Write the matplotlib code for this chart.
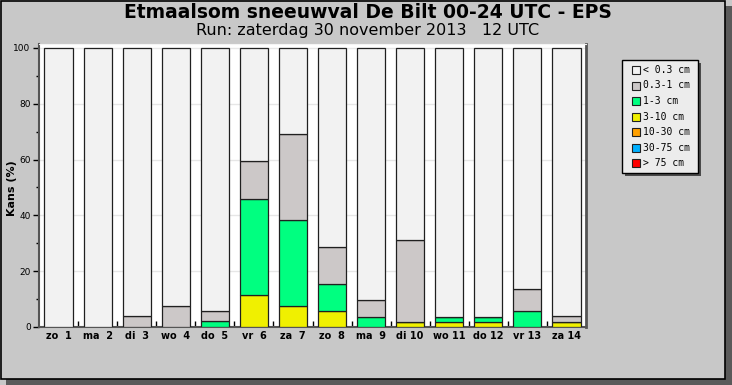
import matplotlib
matplotlib.use("Agg")
import matplotlib.pyplot as plt
from matplotlib.patches import Rectangle
import numpy as np

days = ["zo  1", "ma  2", "di  3", "wo  4", "do  5", "vr  6", "za  7",
        "zo  8", "ma  9", "di 10", "wo 11", "do 12", "vr 13", "za 14"]
classes = ["< 0.3 cm", "0.3-1 cm", "1-3 cm", "3-10 cm", "10-30 cm", "30-75 cm", "> 75 cm"]
colors = ["#f2f2f2", "#ccc8c8", "#00ff80", "#f0f000", "#ffa000", "#00b0ff", "#ff0000"]

# percentages per class (reading from the chart)
p_10_30 = [0, 0, 0, 0, 0, 0, 0, 0, 0, 0, 0, 0, 0, 0]
p_3_10 = [0, 0, 0, 0, 0, 11.3, 7.4, 5.7, 0, 1.9, 1.9, 1.9, 0, 1.9]
p_1_3 = [0, 0, 0, 0, 2.0, 34.7, 31.0, 9.7, 3.6, 0, 1.8, 1.8, 5.8, 0]
p_03_1 = [0, 0, 3.8, 7.6, 3.8, 13.5, 30.8, 13.4, 5.9, 29.4, 0, 0, 7.9, 2.0]
p_30_75 = [0] * 14
p_75 = [0] * 14

W, H = 732, 385
fig = plt.figure(figsize=(W / 100, H / 100), dpi=100)
fig.patch.set_facecolor("#c8c8c8")

def fx(px):
    return px / W

def fy(py):
    return 1 - py / H

# frame with shadow
fig.patches.append(Rectangle((fx(6), fy(385)), fx(726), 379 / H, transform=fig.transFigure,
                             facecolor="#5a5a5a", edgecolor="none", zorder=0))
fig.patches.append(Rectangle((fx(1), fy(379)), fx(724), 378 / H, transform=fig.transFigure,
                             facecolor="#c8c8c8", edgecolor="black", linewidth=1.2, zorder=0.5))

ax = fig.add_axes([fx(39), fy(327), fx(586) - fx(39), fy(44) - fy(327)])
ax.set_zorder(1)
ax.set_facecolor("white")

x = np.arange(len(days))
stack_order = [(p_75, 6), (p_30_75, 5), (p_10_30, 4), (p_3_10, 3), (p_1_3, 2), (p_03_1, 1)]
bottom = np.zeros(len(days))
for vals, ci in stack_order:
    v = np.array(vals, dtype=float)
    ax.bar(x, v, bottom=bottom, width=0.72, color=colors[ci], edgecolor="#202020",
           linewidth=0.9, zorder=3)
    bottom = bottom + v
rest = 100 - bottom
ax.bar(x, rest, bottom=bottom, width=0.72, color=colors[0], edgecolor="#202020",
       linewidth=0.9, zorder=3)

ax.set_xlim(-0.5, len(days) - 0.5)
ax.set_ylim(0, 101.4)
ax.set_yticks([0, 20, 40, 60, 80, 100])
ax.set_yticks([10, 30, 50, 70, 90], minor=True)
ax.set_xticks(x)
ax.set_xticklabels(days, fontsize=7, fontweight="bold")
ax.set_xticks(np.arange(0.5, len(days) - 0.5, 1), minor=True)
ax.tick_params(axis="x", which="major", length=0, pad=3)
ax.tick_params(axis="x", which="minor", direction="in", length=4, width=1)
for i, t in enumerate(ax.xaxis.get_minor_ticks()):
    t.tick1line.set_color("black" if i % 2 == 0 else "#909090")
ax.tick_params(axis="y", which="major", length=4, width=1, labelsize=6.5, pad=2)
ax.tick_params(axis="y", which="minor", length=2, width=1)
ax.grid(axis="y", color="#e6e6e6", linewidth=1, zorder=0)
ax.set_axisbelow(True)

ax.spines["left"].set_color("#555555")
ax.spines["left"].set_linewidth(1.5)
ax.spines["bottom"].set_color("#555555")
ax.spines["bottom"].set_linewidth(1.5)
ax.spines["top"].set_color("#f4f4f4")
ax.spines["right"].set_color("#555555")
ax.spines["right"].set_linewidth(2)

fig.text(fx(12), fy(188), "Kans (%)", rotation=90, ha="center", va="center",
         fontsize=8, fontweight="bold")
fig.text(fx(368), fy(13), "Etmaalsom sneeuwval De Bilt 00-24 UTC - EPS", ha="center",
         va="center", fontsize=13.5, fontweight="bold")
fig.text(fx(368), fy(31), "Run: zaterdag 30 november 2013   12 UTC", ha="center",
         va="center", fontsize=11.5, family="DejaVu Sans")

# legend box
fig.patches.append(Rectangle((fx(625), fy(176)), fx(76), 113 / H, transform=fig.transFigure,
                             facecolor="#4a4a4a", edgecolor="none", zorder=1))
fig.patches.append(Rectangle((fx(622), fy(173)), fx(76), 113 / H, transform=fig.transFigure,
                             facecolor="#ececec", edgecolor="black", linewidth=1, zorder=2))
for i, (lab, col) in enumerate(zip(classes, colors)):
    yc = 70 + i * 15.5
    fig.patches.append(Rectangle((fx(632), fy(yc + 4)), fx(8), 8 / H, transform=fig.transFigure,
                                 facecolor=col, edgecolor="#202020", linewidth=0.8, zorder=3))
    fig.text(fx(643), fy(yc), lab, ha="left", va="center", fontsize=7,
             family="DejaVu Sans Mono", zorder=4)

fig.savefig("out.png", dpi=100, facecolor=fig.get_facecolor())
